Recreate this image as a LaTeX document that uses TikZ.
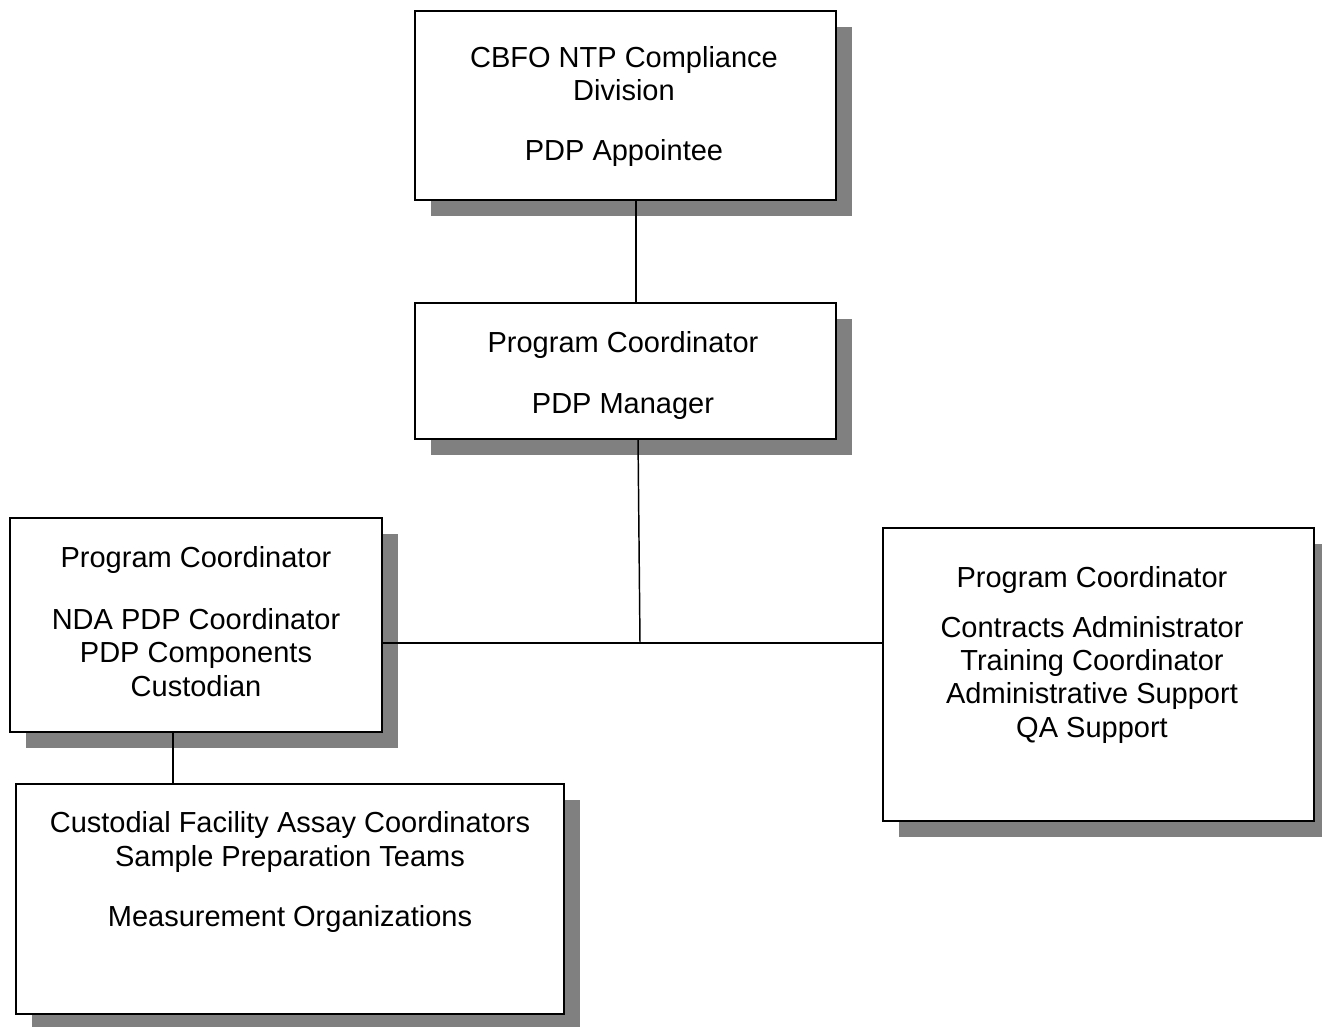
\documentclass[tikz,border=0pt]{standalone}
\usepackage{fontspec}
\setmainfont{Liberation Sans}
\usetikzlibrary{shadows}
\begin{document}
\begin{tikzpicture}[x=0.75pt,y=-0.75pt,
  box/.style={draw=black, line width=1.3pt, fill=white, rectangle, inner sep=0pt,
    drop shadow={shadow xshift=12pt, shadow yshift=-12pt, fill=black!50, opacity=1}},
  txt/.style={anchor=base, inner sep=0pt, font=\fontsize{21.75pt}{24pt}\selectfont},
  link/.style={draw=black, line width=1.1pt},
  bus/.style={draw=black, line width=1.8pt}]
\useasboundingbox (0,0) rectangle (1322,1027);
\fill[white] (0,0) rectangle (1322,1027);

% boxes
\node[box, minimum width=315.75pt, minimum height=141.75pt] (top) at (625.5,105.5) {};
\node[box, minimum width=315.75pt, minimum height=102pt] (mid) at (625.5,371) {};
\node[box, minimum width=279pt, minimum height=160.5pt] (left) at (196,625) {};
\node[box, minimum width=411pt, minimum height=172.5pt] (bot) at (290,899) {};
\node[box, minimum width=323.25pt, minimum height=219.75pt] (right) at (1098.5,674.5) {};

% texts
\node[txt] (t1) at (624,68) {CBFO NTP Compliance};
\node[txt] (t2) at (624,101) {Division};
\node[txt] (t3) at (624,161) {PDP Appointee};

\node[txt] (m1) at (623,352) {Program Coordinator};
\node[txt] (m2) at (623,413) {PDP Manager};

\node[txt] (l1) at (196,567) {Program Coordinator};
\node[txt] (l2) at (196,629) {NDA PDP Coordinator};
\node[txt] (l3) at (196,662) {PDP Components};
\node[txt] (l4) at (196,696) {Custodian};

\node[txt] (b1) at (290,832) {Custodial Facility Assay Coordinators};
\node[txt] (b2) at (290,866) {Sample Preparation Teams};
\node[txt] (b3) at (290,926) {Measurement Organizations};

\node[txt] (r1) at (1092,587) {Program Coordinator};
\node[txt] (r2) at (1092,637) {Contracts Administrator};
\node[txt] (r3) at (1092,670) {Training Coordinator};
\node[txt] (r4) at (1092,703) {Administrative Support};
\node[txt] (r5) at (1092,737) {QA Support};

% connectors
\coordinate (j) at (640,643);
\draw[link] ([xshift=7.9pt]top.south) -- ([xshift=7.9pt]mid.north);
\draw[link] ([xshift=9.4pt]mid.south) -- (j);
\draw[bus] (left.east |- j) -- (right.west |- j);
\draw[link] ([xshift=-17.25pt]left.south) -- ([xshift=-17.25pt]left.south |- bot.north);
\end{tikzpicture}
\end{document}
